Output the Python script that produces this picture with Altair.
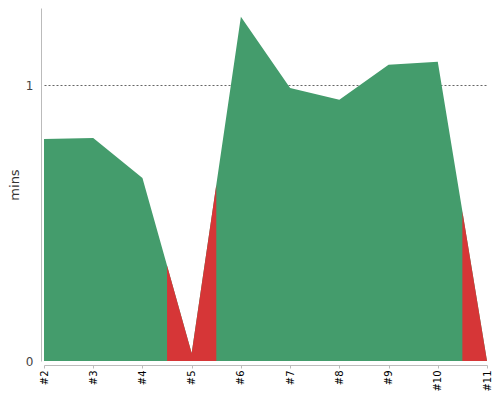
import altair as alt
import pandas as pd

runs = ["#2", "#3", "#4", "#5", "#6", "#7", "#8", "#9", "#10", "#11"]
mins = [0.805, 0.809, 0.664, 0.028, 1.248, 0.990, 0.947, 1.074, 1.085, 0.0]
status = ["ok", "ok", "ok", "bad", "ok", "ok", "ok", "ok", "ok", "bad"]

GREEN = "#449c6c"
RED = "#d63637"


def interp(x):
    i = int(x)
    if i >= len(mins) - 1:
        return mins[-1]
    f = x - i
    return mins[i] * (1 - f) + mins[i + 1] * f


n = len(runs)
base_df = pd.DataFrame({"x": list(range(n)), "y": mins, "status": status})

rows = []
seg = 0
for i in range(n):
    if i > 0 and status[i] != status[i - 1]:
        seg += 1
    xs = []
    if i > 0:
        xs.append(i - 0.5)
    xs.append(i)
    if i < n - 1:
        xs.append(i + 0.5)
    for x in xs:
        rows.append({"x": x, "y": interp(x), "status": status[i], "seg": seg})

seg_df = pd.DataFrame(rows).drop_duplicates(subset=["x", "seg"])
bad_df = seg_df[seg_df["status"] == "bad"]

label_expr = "[" + ",".join("'%s'" % r for r in runs) + "][datum.value]"

x_enc = alt.X(
    "x:Q",
    scale=alt.Scale(domain=[0, n - 1], nice=False, zero=False),
    axis=alt.Axis(
        values=list(range(n)),
        labelExpr=label_expr,
        labelAngle=270,
        title=None,
        grid=False,
        offset=4,
        domainColor="#bbbbbb",
        tickColor="#bbbbbb",
        tickSize=3,
        labelColor="#000000",
        labelFontSize=10,
        labelFont="DejaVu Sans",
        labelPadding=2,
    ),
)
y_enc = alt.Y(
    "y:Q",
    stack=None,
    scale=alt.Scale(domain=[0, 1.28], nice=False),
    axis=alt.Axis(
        values=[0, 1],
        format="d",
        title="mins",
        grid=True,
        gridDash=[2, 2],
        gridColor="#666666",
        gridOpacity={"condition": {"test": "datum.value === 0", "value": 0}, "value": 1},
        ticks=False,
        offset=3,
        domainColor="#bbbbbb",
        labelColor="#444444",
        labelFontSize=12,
        labelFont="DejaVu Sans",
        labelPadding=8,
        titleFont="DejaVu Sans",
        titleFontSize=13,
        titleFontWeight="normal",
        titleColor="#333333",
        titlePadding=4,
    ),
)

base = alt.Chart(base_df).mark_area(interpolate="linear", opacity=1, color=GREEN).encode(
    x=x_enc, y=y_enc
)

bad = alt.Chart(bad_df).mark_area(interpolate="linear", opacity=1, color=RED).encode(
    x="x:Q", y=alt.Y("y:Q", stack=None), detail="seg:N"
)

chart = alt.layer(base, bad).properties(
    width=443,
    height=353,
    autosize=alt.AutoSizeParams(type="none"),
    padding={"left": 36, "top": 0, "right": 5, "bottom": 31},
).configure_view(stroke=None)

chart.save("out.html", embed_options={"renderer": "svg", "actions": False})
